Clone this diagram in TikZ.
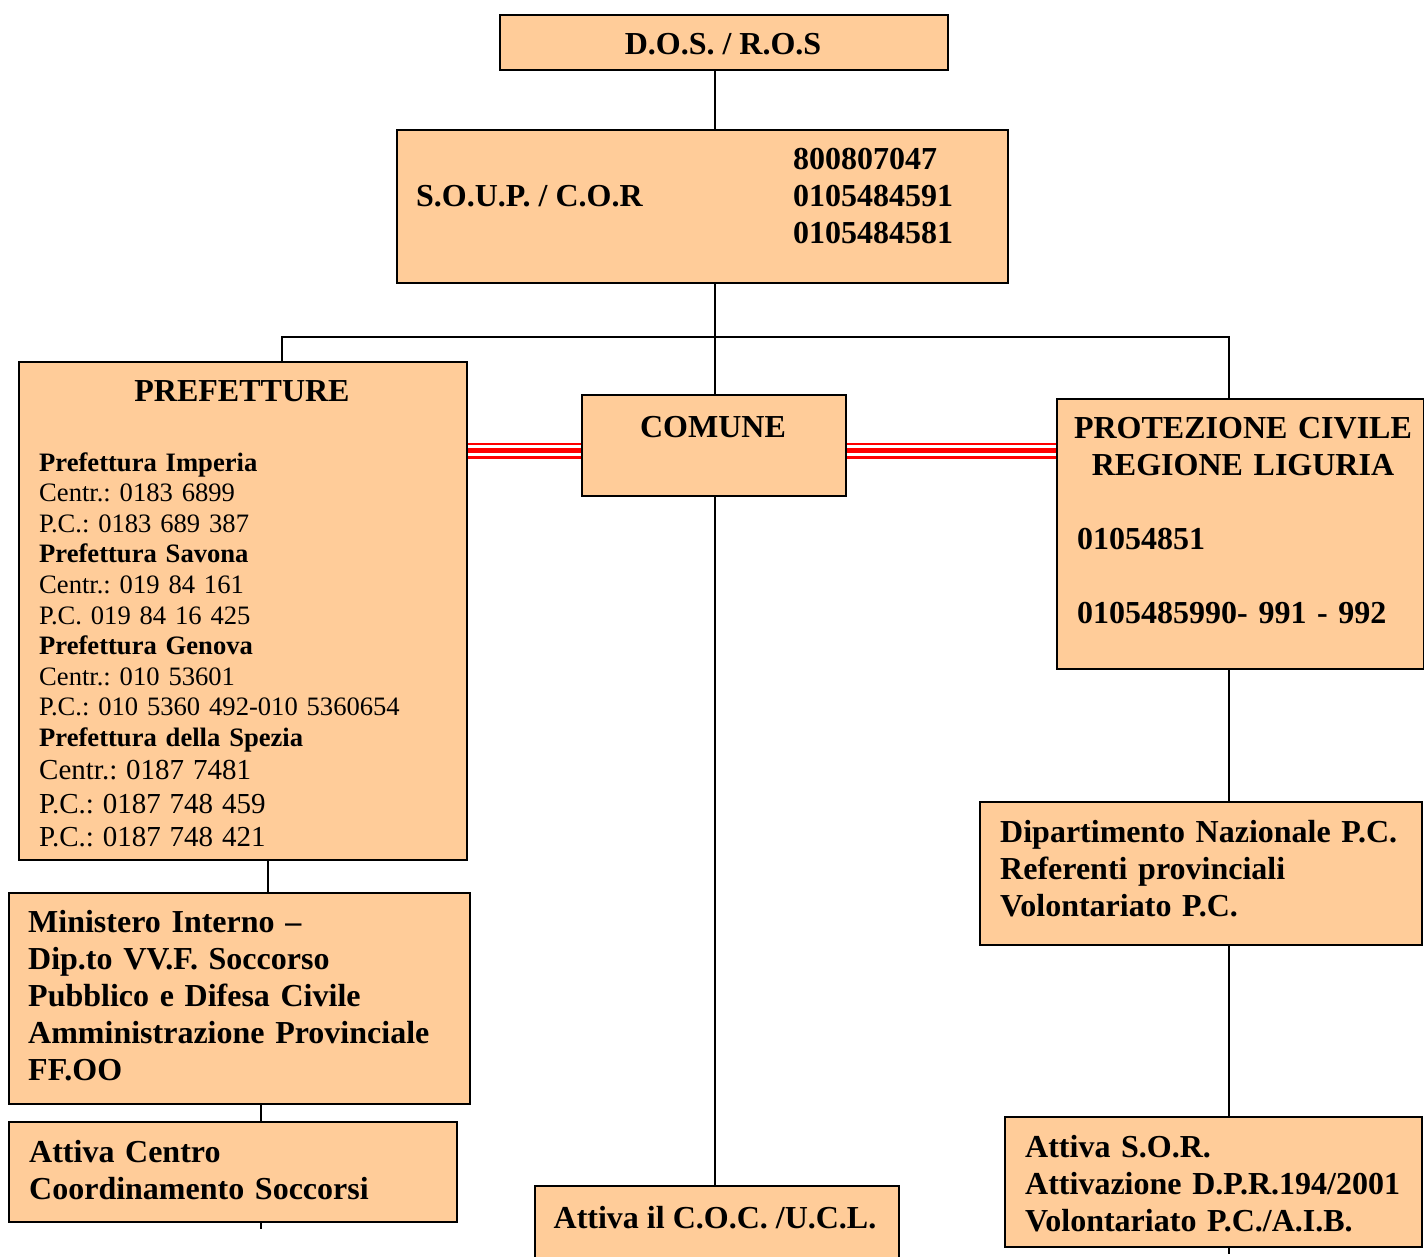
\documentclass[tikz,border=0pt]{standalone}
\usepackage{fontspec}
\setmainfont{Liberation Serif}
\usepackage{xcolor}
\usetikzlibrary{calc}
\usetikzlibrary{backgrounds}
\definecolor{peach}{RGB}{255,204,153}
\frenchspacing

\begin{document}
\begin{tikzpicture}[x=1pt,y=-1pt,
  box/.style={draw,line width=2pt,fill=peach,inner sep=0pt,anchor=north west},
  head/.style={font=\fontsize{32}{37}\selectfont\bfseries,inner sep=0pt},
  small/.style={font=\fontsize{26.6}{30.6}\selectfont,inner sep=0pt,anchor=base west,text width=430pt,align=left},
  wire/.style={line width=1.6pt},
  triple/.style={draw=red,line width=16pt,postaction={draw=white,line width=11pt},postaction={draw=red,line width=5pt}}]
\useasboundingbox (0,0) rectangle (1424,1256);
% boxes
\node[box,minimum width=448pt,minimum height=55pt] (dos) at (499,14) {};
\node[box,minimum width=611pt,minimum height=153pt] (soup) at (396,129) {};
\node[box,minimum width=448pt,minimum height=498pt] (pref) at (18,361) {};
\node[box,minimum width=264pt,minimum height=101pt] (comune) at (581,394) {};
\node[box,minimum width=367pt,minimum height=270pt] (prot) at (1056,398) {};
\node[box,minimum width=461pt,minimum height=211pt] (mini) at (8,892) {};
\node[box,minimum width=448pt,minimum height=100pt] (centro) at (8,1121) {};
\node[box,minimum width=364pt,minimum height=110pt] (coc) at (534,1185) {};
\node[box,minimum width=442pt,minimum height=143pt] (dip) at (979,801) {};
\node[box,minimum width=417pt,minimum height=130pt] (sor) at (1004,1116) {};
% texts
\node[head,anchor=base] (dosT) at (723,54) {D.O.S. / R.O.S};
\node[head,anchor=base west] (soupT) at (416,206) {S.O.U.P. / C.O.R};
\node[head,anchor=base west,text width=200pt,align=left] (soupN) at (793,169) {800807047\\0105484591\\0105484581};
\node[head,anchor=base] (prefT) at (242,401) {PREFETTURE};
\node[small] (prefL) at (39,471) {\textbf{Prefettura Imperia}\\Centr.: 0183 6899\\P.C.: 0183 689 387\\
  \textbf{Prefettura Savona}\\Centr.: 019 84 161\\P.C. 019 84 16 425\\
  \textbf{Prefettura Genova}\\Centr.: 010 53601\\P.C.: 010 5360 492-010 5360654\\
  \textbf{Prefettura della Spezia}\par
  \fontsize{29}{33.5}\selectfont Centr.: 0187 7481\\P.C.: 0187 748 459\\P.C.: 0187 748 421\par};
\node[head,anchor=base] (comT) at (713,437) {COMUNE};
\node[head,anchor=base,text width=360pt,align=center] (protT) at (1243,438) {PROTEZIONE CIVILE\\REGIONE LIGURIA};
\node[head,anchor=base west,text width=340pt,align=left] (protN) at (1077,549) {01054851\\[37pt]0105485990- 991 - 992};
\node[head,anchor=base west,text width=440pt,align=left] (miniT) at (28,932) {Ministero Interno --\\Dip.to VV.F. Soccorso\\Pubblico e Difesa Civile\\Amministrazione Provinciale\\FF.OO};
\node[head,anchor=base west,text width=420pt,align=left] (centroT) at (29,1162) {Attiva Centro\\Coordinamento Soccorsi};
\node[head,anchor=base] (cocT) at (715,1228) {Attiva il C.O.C. /U.C.L.};
\node[head,anchor=base west,text width=420pt,align=left] (dipT) at (1000,842) {Dipartimento Nazionale P.C.\\Referenti provinciali\\Volontariato P.C.};
\node[head,anchor=base west,text width=400pt,align=left] (sorT) at (1025,1157) {Attiva S.O.R.\\Attivazione D.P.R.194/2001\\Volontariato P.C./A.I.B.};
% links
\coordinate (spine) at (715,0);
\coordinate (busL) at (282,337);
\coordinate (busR) at (1229,337);
\coordinate (leftA) at (268,0);
\coordinate (leftB) at (261,0);
\coordinate (redL) at ([yshift=-5pt]comune.west);
\coordinate (redR) at ([yshift=-5pt]comune.east);
\begin{scope}[on background layer]
\draw[wire] (dos.south -| spine) -- (soup.north -| spine);
\draw[wire] (soup.south -| spine) -- (comune.north -| spine);
\draw[wire] (pref.north -| busL) -- (busL) -- (busR) -- (prot.north -| busR);
\draw[wire] (comune.south -| spine) -- (coc.north -| spine);
\draw[wire] (pref.south -| leftA) -- (mini.north -| leftA);
\draw[wire] (mini.south -| leftB) -- (centro.north -| leftB);
\draw[wire] (centro.south -| leftB) -- ++(0,6);
\draw[wire] (prot.south -| busR) -- (dip.north -| busR);
\draw[wire] (dip.south -| busR) -- (sor.north -| busR);
\draw[wire] (sor.south -| busR) -- ++(0,6);
\draw[triple] (redL -| pref.east) -- (redL);
\draw[triple] (redR) -- (redR -| prot.west);
\end{scope}
\end{tikzpicture}
\end{document}
